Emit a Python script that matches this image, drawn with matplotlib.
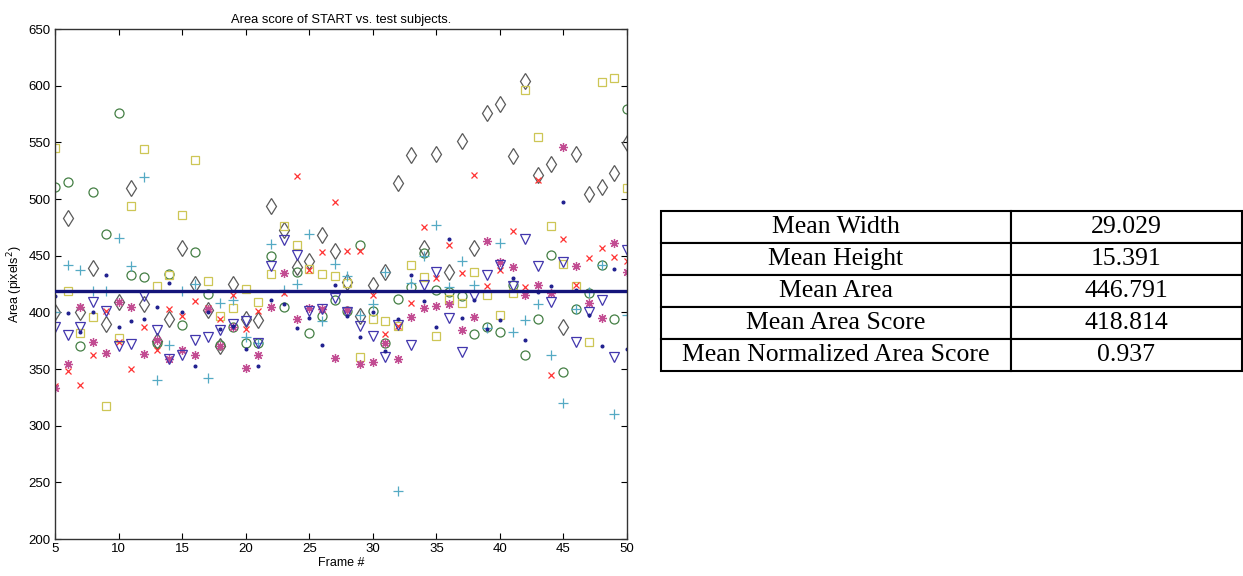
import numpy as np
import matplotlib
matplotlib.use("Agg")
import matplotlib.pyplot as plt

# ── Data ──────────────────────────────────────────────────────────────────────
frames = list(range(5, 51))

diamond = [400, 483, 400, 439, 390, 409, 510, 407, 375, 394, 457, 425, 402, 370, 425, 394,
           393, 494, 473, 440, 445, 468, 454, 427, 397, 424, 436, 514, 539, 457, 540, 436,
           551, 457, 576, 584, 538, 604, 521, 531, 387, 540, 504, 511, 523, 549]
circle = [511, 515, 370, 506, 469, 576, 433, 431, 373, 434, 389, 453, 416, 371, 387, 373,
          373, 450, 405, 436, 382, 397, 411, 401, 459, 401, 373, 412, 422, 452, 420, 418,
          414, 381, 387, 383, 424, 362, 394, 451, 347, 403, 417, 442, 394, 579]
square = [545, 419, 382, 396, 317, 377, 494, 544, 423, 433, 486, 534, 428, 397, 404, 421,
          409, 434, 476, 459, 438, 434, 432, 426, 361, 394, 392, 388, 442, 431, 379, 412,
          408, 436, 415, 398, 417, 596, 555, 476, 443, 423, 374, 603, 607, 510]
plus = [400, 442, 437, 419, 419, 466, 441, 519, 340, 371, 419, 425, 342, 408, 411, 378,
        373, 460, 420, 425, 469, 392, 443, 432, 398, 407, 436, 242, 426, 450, 477, 422,
        445, 424, 386, 461, 383, 393, 407, 362, 320, 403, 418, 442, 310, 398]
cross = [335, 348, 336, 362, 401, 374, 350, 387, 367, 403, 397, 410, 404, 394, 415, 385,
         401, 405, 417, 520, 437, 453, 497, 454, 454, 415, 381, 388, 408, 475, 430, 459,
         435, 521, 423, 437, 472, 422, 517, 345, 465, 424, 448, 457, 449, 445]
aster = [333, 354, 405, 374, 364, 409, 405, 363, 376, 359, 367, 362, 403, 370, 387, 351,
         362, 405, 435, 394, 404, 403, 360, 402, 354, 356, 373, 359, 396, 404, 406, 407,
         384, 396, 463, 444, 440, 415, 424, 417, 546, 441, 408, 395, 461, 436]
tri = [387, 380, 387, 409, 401, 370, 372, 414, 384, 359, 362, 376, 378, 384, 390, 392,
       373, 441, 464, 451, 401, 403, 413, 400, 388, 379, 361, 389, 371, 424, 436, 395,
       365, 414, 433, 442, 423, 465, 441, 409, 444, 374, 400, 411, 361, 455]
dot = [414, 399, 383, 400, 433, 387, 392, 394, 405, 426, 400, 353, 400, 385, 388, 368,
       353, 411, 407, 386, 395, 371, 424, 397, 378, 400, 366, 394, 433, 410, 387, 465,
       395, 411, 385, 393, 430, 376, 418, 423, 497, 420, 398, 370, 438, 368]

mean_score = 418.814

row_labels = ["Mean Width", "Mean Height", "Mean Area", "Mean Area Score",
              "Mean Normalized Area Score"]
row_values = ["29.029", "15.391", "446.791", "418.814", "0.937"]

# ── Figure ────────────────────────────────────────────────────────────────────
fig = plt.figure(figsize=(12.43, 5.76), dpi=100)
ax = fig.add_axes([55 / 1243, 1 - 539 / 576, 572 / 1243, 510 / 576])

asterisk = (8, 2, 0)
series = [
    (diamond, "d", "#5a5a5a", 8),
    (circle, "o", "#447f44", 6.5),
    (square, "s", "#cdc655", 5.5),
    (plus, "+", "#55aac4", 7),
    (cross, "x", "#ff3333", 5),
    (aster, asterisk, "#c24c92", 6.5),
    (tri, "v", "#4237ad", 7),
    (dot, ".", "#1f1f8f", 4),
]
for vals, mk, col, ms in series:
    ax.plot(frames, vals, linestyle="none", marker=mk, markersize=ms,
            markerfacecolor="none" if mk != "." else col,
            markeredgecolor=col, markeredgewidth=0.9)

ax.axhline(mean_score, color="#14147a", linewidth=2.4, zorder=5)

ax.set_xlim(5, 50)
ax.set_ylim(200, 650)
ax.set_xticks(range(5, 51, 5))
ax.set_yticks(range(200, 651, 50))
ax.tick_params(direction="in", top=True, right=True, length=4, width=0.8,
               labelsize=9.5, pad=3)
for lab in ax.get_xticklabels() + ax.get_yticklabels():
    lab.set_family("Liberation Sans")
for sp in ax.spines.values():
    sp.set_linewidth(1.0)
    sp.set_color("#333333")

ax.set_title("Area score of START vs. test subjects.", fontsize=9.3,
             family="Liberation Sans", pad=4)
ax.set_xlabel("Frame #", fontsize=9, family="Liberation Sans", labelpad=1)
ax.set_ylabel("Area (pixels$^2$)", fontsize=9, family="Liberation Sans", labelpad=3)

# ── Table ─────────────────────────────────────────────────────────────────────
tax = fig.add_axes([661 / 1243, 1 - 371 / 576, 581 / 1243, 160 / 576])
tax.axis("off")
cells = [[l, v] for l, v in zip(row_labels, row_values)]
tbl = tax.table(cellText=cells, cellLoc="center", colWidths=[0.602, 0.398],
                bbox=[0, 0, 1, 1])
tbl.auto_set_font_size(False)
for (r, c), cell in tbl.get_celld().items():
    cell.set_linewidth(1.5)
    cell.set_edgecolor("black")
    cell.get_text().set_fontsize(18.5)
    cell.get_text().set_family("Liberation Serif")

fig.savefig("out.png", dpi=100)
